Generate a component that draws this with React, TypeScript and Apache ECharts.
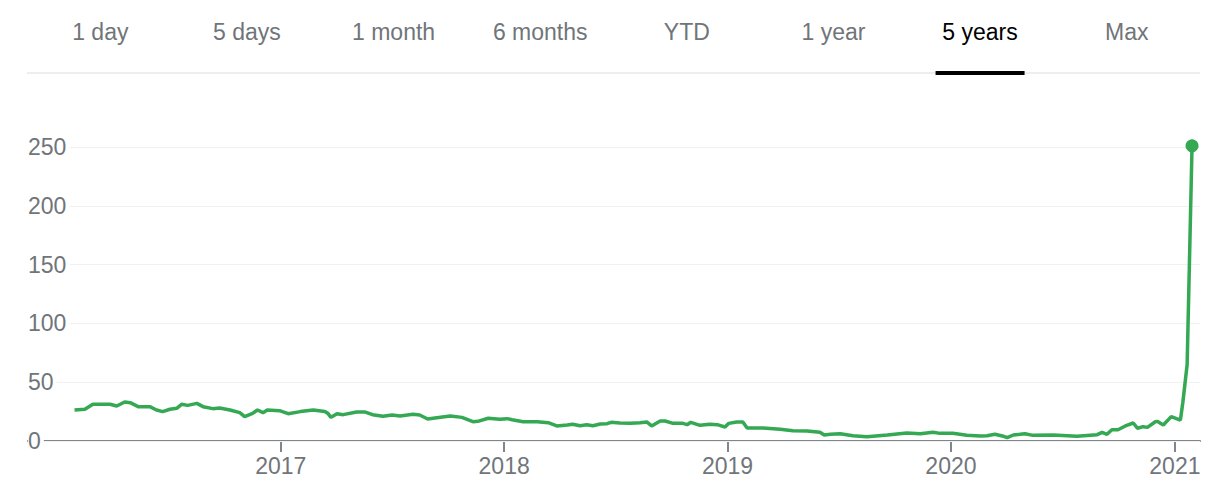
import React, { useEffect, useRef } from "react";
import * as echarts from "echarts";

const tabLabels = ["1 day", "5 days", "1 month", "6 months", "YTD", "1 year", "5 years", "Max"];
const activeTab = 6;

const yTicks = [0, 50, 100, 150, 200, 250];
const yearTicks = ["2017-01-01", "2018-01-01", "2019-01-01", "2020-01-01", "2021-01-01"];
const axisMin = "2015-11-15";
const axisMax = "2021-02-11";

const dates = [
  "2016-01-30", "2016-02-16", "2016-02-29", "2016-03-28", "2016-04-08", "2016-04-21", "2016-04-30", "2016-05-13",
  "2016-06-01", "2016-06-12", "2016-06-22", "2016-07-04", "2016-07-15", "2016-07-23", "2016-08-02", "2016-08-17",
  "2016-08-27", "2016-09-12", "2016-09-23", "2016-10-10", "2016-10-26", "2016-11-03", "2016-11-16", "2016-11-24",
  "2016-12-03", "2016-12-10", "2016-12-30",
  "2017-01-13", "2017-02-02", "2017-02-23", "2017-03-14", "2017-03-19", "2017-03-24", "2017-04-03", "2017-04-13",
  "2017-05-05", "2017-05-18", "2017-05-31", "2017-06-17", "2017-07-02", "2017-07-15", "2017-08-05", "2017-08-16",
  "2017-08-29", "2017-09-13", "2017-10-05", "2017-10-24", "2017-11-11", "2017-11-19", "2017-12-06", "2017-12-25",
  "2018-01-06", "2018-01-14", "2018-02-01", "2018-02-24", "2018-03-14", "2018-03-28", "2018-04-14", "2018-04-23",
  "2018-05-05", "2018-05-16", "2018-05-26", "2018-06-07", "2018-06-18", "2018-06-25", "2018-07-09", "2018-07-26",
  "2018-08-11", "2018-08-22", "2018-08-30", "2018-09-13", "2018-09-21", "2018-10-04", "2018-10-20", "2018-10-27",
  "2018-11-02", "2018-11-17", "2018-12-03", "2018-12-15", "2018-12-28",
  "2019-01-03", "2019-01-16", "2019-01-26", "2019-02-02", "2019-02-28", "2019-03-28", "2019-04-18", "2019-05-11",
  "2019-06-01", "2019-06-08", "2019-06-18", "2019-07-04", "2019-07-25", "2019-08-17", "2019-09-19", "2019-10-21",
  "2019-11-12", "2019-12-03", "2019-12-14",
  "2020-01-04", "2020-01-27", "2020-02-18", "2020-02-29", "2020-03-13", "2020-03-25", "2020-04-02", "2020-04-12",
  "2020-04-23", "2020-05-01", "2020-05-14", "2020-06-16", "2020-07-25", "2020-08-27", "2020-09-04", "2020-09-12",
  "2020-09-20", "2020-09-30", "2020-10-12", "2020-10-25", "2020-11-01", "2020-11-10", "2020-11-17", "2020-11-30",
  "2020-12-03", "2020-12-13", "2020-12-26",
  "2021-01-10", "2021-01-14", "2021-01-21", "2021-01-29",
];

const prices = [
  26.4, 27, 31.2, 31.2, 29.8, 33.2, 32.6, 29.2,
  29.2, 26.4, 25, 27, 27.8, 31.2, 30.3, 32,
  29.2, 27.5, 28, 26.4, 24.1, 20.7, 23.5, 26.4,
  24.1, 26.4, 25.8,
  23.2, 25, 26.4, 25, 23.5, 20.1, 23.2, 22.4,
  24.7, 24.7, 22.4, 21, 22.1, 21.3, 22.7, 22.1,
  18.7, 19.8, 21.3, 20.1, 16.4, 16.7, 19.3, 18.4,
  19, 18.1, 16.4, 16.4, 15.6, 12.8, 13.6, 14.2,
  13, 13.9, 13, 14.5, 14.7, 15.9, 15.3, 15,
  15.6, 16.2, 12.8, 17, 17, 15, 15, 13.9,
  15.9, 13.3, 14.2, 13.9, 11.9,
  15, 16.2, 16.2, 11.1, 11.1, 9.9, 8.8, 8.5,
  7.4, 5.1, 5.7, 6.2, 4.5, 3.7, 5.1, 6.8,
  6.2, 7.4, 6.5,
  6.5, 4.8, 4.3, 4.5, 5.7, 4.3, 2.8, 5.1,
  5.7, 6.2, 4.8, 5.1, 4, 5.4, 7.4, 5.7,
  9.6, 9.6, 12.8, 15.3, 10.8, 12.2, 11.6, 16.4,
  16.7, 13.6, 20.7,
  17.8, 33, 65, 251,
];

const GREEN = "#34a853";
const GREY_TEXT = "#70757a";
const AXIS_GREY = "#80868b";
const FONT = "'Liberation Sans', Arial, sans-serif";

function toTime(s: string): number {
  const [y, m, d] = s.split("-").map(Number);
  return new Date(y, m - 1, d).getTime();
}

export default function App() {
  const ref = useRef<HTMLDivElement>(null);

  useEffect(() => {
    if (!ref.current) return;
    const chart = echarts.init(ref.current, undefined, { renderer: "svg" });
    const seriesData = dates.map((d, i) => [toTime(d), prices[i]]);
    const last = seriesData[seriesData.length - 1];
    const tabLeft = 27;
    const tabRight = 1200;
    const tabW = (tabRight - tabLeft) / tabLabels.length;
    const yearVals = yearTicks.map(toTime);

    const graphics: any[] = tabLabels.map((t, i) => ({
      type: "text",
      x: tabLeft + tabW * (i + 0.5),
      y: 32,
      style: {
        text: t,
        fontSize: 23,
        fontFamily: FONT,
        fill: i === activeTab ? "#000000" : GREY_TEXT,
        textAlign: "center",
        textVerticalAlign: "middle",
      },
    }));
    graphics.push({
      type: "line",
      shape: { x1: tabLeft, y1: 73, x2: tabRight, y2: 73 },
      style: { stroke: "#dadce0", lineWidth: 1 },
    });
    graphics.push({
      type: "rect",
      shape: { x: tabLeft + tabW * (activeTab + 0.5) - 44.5, y: 71, width: 89, height: 4 },
      style: { fill: "#000000" },
    });

    chart.setOption({
      animation: false,
      textStyle: { fontFamily: FONT },
      graphic: graphics,
      grid: { left: 28, right: 17, top: 147, bottom: 54, containLabel: false },
      xAxis: {
        type: "value",
        min: toTime(axisMin),
        max: toTime(axisMax),
        z: 0,
        axisLine: { show: true, lineStyle: { color: AXIS_GREY, width: 2 } },
        axisTick: {
          show: true,
          customValues: yearVals,
          length: 11,
          lineStyle: { color: AXIS_GREY, width: 2 },
        },
        axisLabel: {
          customValues: yearVals,
          formatter: (v: number) => String(new Date(v).getFullYear()),
          margin: 13,
          fontSize: 23,
          color: GREY_TEXT,
          fontFamily: FONT,
        },
        splitLine: { show: false },
      },
      yAxis: {
        type: "value",
        min: yTicks[0],
        max: yTicks[yTicks.length - 1],
        interval: 50,
        z: 1,
        axisLine: { show: false },
        axisTick: { show: false },
        axisLabel: {
          inside: true,
          margin: 0,
          fontSize: 23,
          color: GREY_TEXT,
          fontFamily: FONT,
          backgroundColor: "#ffffff",
          padding: [2, 3, 2, 0],
        },
        splitLine: { show: true, lineStyle: { color: "#f1f1f1", width: 1 } },
      },
      series: [
        {
          type: "line",
          data: seriesData,
          showSymbol: false,
          clip: false,
          z: 2,
          lineStyle: { color: GREEN, width: 3.5 },
          itemStyle: { color: GREEN },
        },
        {
          type: "scatter",
          data: [last],
          symbolSize: 13,
          clip: false,
          z: 3,
          itemStyle: { color: GREEN, opacity: 1 },
        },
      ],
    });

    return () => chart.dispose();
  }, []);

  return (
    <div
      ref={ref}
      style={{ position: "absolute", left: 0, top: 0, width: 1217, height: 495, background: "#ffffff" }}
    />
  );
}
